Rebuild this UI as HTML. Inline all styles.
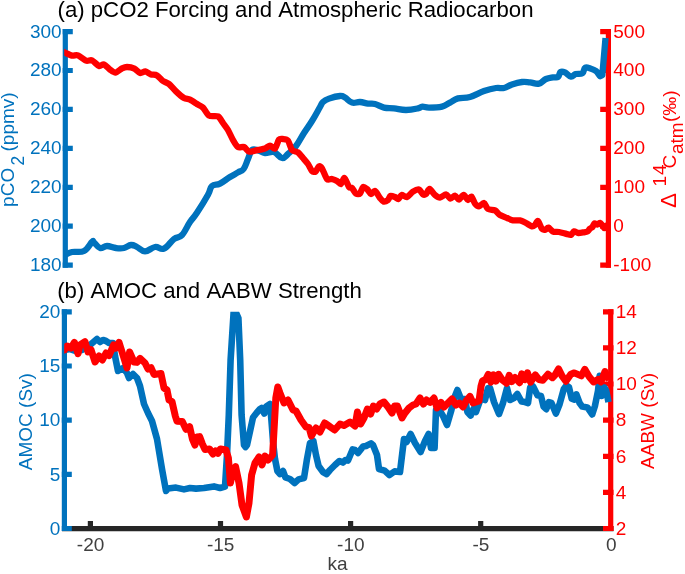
<!DOCTYPE html>
<html><head><meta charset="utf-8"><title>Figure</title>
<style>
html,body{margin:0;padding:0;background:#fff}
svg{display:block}
text{font-family:"Liberation Sans",sans-serif;font-kerning:none}
.b{fill:#0072bd}.r{fill:#ff0000}.k{fill:#404040}
.t{font-size:22.2px;fill:#000}
.n{font-size:19px}
</style></head><body>
<svg width="685" height="574" viewBox="0 0 685 574">
<rect width="685" height="574" fill="#fff"/>
<!-- titles -->
<text class="t" x="57.5" y="17">(a) pCO2 Forcing and Atmospheric Radiocarbon</text>
<text class="t" x="57.2" y="298">(b) AMOC and AABW Strength</text>


<!-- top-left axis -->
<g stroke="#0072bd" stroke-width="5.2" fill="none">
<path d="M65.3 29V267.7"/>
<path d="M62.7 31.6H72.8M62.7 70.5H72.8M62.7 109.4H72.8M62.7 148.4H72.8M62.7 187.3H72.8M62.7 226.2H72.8M62.7 265.1H72.8"/>
</g>
<g class="b n" text-anchor="end">
<text x="61.6" y="37.5">300</text><text x="61.6" y="76.4">280</text><text x="61.6" y="115.3">260</text><text x="61.6" y="154.3">240</text><text x="61.6" y="193.2">220</text><text x="61.6" y="232.1">200</text><text x="61.6" y="271.0">180</text>
</g>
<g class="b n">
<text transform="translate(14.4,206.9) rotate(-90)">pCO</text>
<text transform="translate(23.8,165.6) rotate(-90)" font-size="17.5" style="font-size:17.5px">2</text>
<text transform="translate(14.4,151.5) rotate(-90)">(ppmv)</text>
</g>

<!-- top-right axis -->
<g stroke="#ff0000" stroke-width="5.2" fill="none">
<path d="M608.4 29V267.7"/>
<path d="M611 31.6H600.2M611 70.5H600.2M611 109.4H600.2M611 148.4H600.2M611 187.3H600.2M611 226.2H600.2M611 265.1H600.2"/>
</g>
<g class="r n">
<text x="613.3" y="37.5">500</text><text x="613.3" y="76.4">400</text><text x="613.3" y="115.3">300</text><text x="613.3" y="154.3">200</text><text x="613.3" y="193.2">100</text><text x="613.3" y="232.1">0</text><text x="613.3" y="271.0">-100</text>
</g>
<g class="r n">
<text transform="translate(675.8,207.9) rotate(-90)" style="font-size:22.5px">Δ</text>
<text transform="translate(665.6,186.4) rotate(-90)" style="font-size:19px;letter-spacing:0.8px">14</text>
<text transform="translate(675.8,168.6) rotate(-90)">C</text>
<text transform="translate(683.2,154) rotate(-90)">atm</text>
<text transform="translate(675.5,122) rotate(-90)">(‰)</text>
</g>

<!-- bottom x axis -->
<g stroke="#262626" stroke-width="5.2" fill="none">
<path d="M62 528.7H613.5"/>
<path d="M90.4 531V521M220.5 531V521M350.6 531V521M480.7 531V521"/>
</g>
<g class="k n" text-anchor="middle">
<text x="90.6" y="551">-20</text><text x="220.7" y="551">-15</text><text x="350.8" y="551">-10</text><text x="480.9" y="551">-5</text><text x="611.2" y="551">0</text>
<text x="337.5" y="570">ka</text>
</g>

<!-- bottom-left axis -->
<g stroke="#0072bd" stroke-width="5.2" fill="none">
<path d="M64.4 309.2V531.1"/>
<path d="M61.8 311.8H71.8M61.8 366.0H71.8M61.8 420.2H71.8M61.8 474.3H71.8M61.8 528.5H71.8"/>
</g>
<g class="b n" text-anchor="end">
<text x="60.4" y="318.0">20</text><text x="60.4" y="372.2">15</text><text x="60.4" y="426.4">10</text><text x="60.4" y="480.5">5</text><text x="60.4" y="534.7">0</text>
</g>
<text class="b n" transform="translate(32.3,470.2) rotate(-90)">AMOC (Sv)</text>

<!-- bottom-right axis -->
<g stroke="#ff0000" stroke-width="5.2" fill="none">
<path d="M610.7 309.2V531.1"/>
<path d="M613.5 311.8H603M613.5 347.9H603M613.5 384.0H603M613.5 420.2H603M613.5 456.3H603M613.5 492.4H603M613.5 528.5H603"/>
</g>
<g class="r n">
<text x="615.8" y="318.0">14</text><text x="615.8" y="354.1">12</text><text x="615.8" y="390.2">10</text><text x="615.8" y="426.4">8</text><text x="615.8" y="462.5">6</text><text x="615.8" y="498.6">4</text><text x="615.8" y="534.7">2</text>
</g>
<text class="r n" transform="translate(654.3,468.9) rotate(-90)">AABW (Sv)</text>
<!-- CURVES-A -->
<g fill="none" stroke-width="6.3" stroke-linejoin="round" stroke-linecap="butt" clip-path="url(#ca)">
<path id="blueA" stroke="#0072bd" d="M65 255 C66.4 254.4 68.2 252.8 72 252 C75.8 251.2 80.0 253.0 84 251 C88.0 249.0 90.0 243.7 92 242 C94.0 240.3 92.4 241.2 94 242.4 C95.6 243.6 97.4 247.3 100 248 C102.6 248.7 103.8 246.0 107 246 C110.2 246.0 112.6 247.6 116 248 C119.4 248.4 121.0 248.6 124 248 C127.0 247.4 128.4 245.2 131 245 C133.6 244.8 134.2 245.7 137 247 C139.8 248.3 141.4 251.4 145 251.4 C148.6 251.4 151.2 247.6 155 247 C158.8 246.4 160.2 250.2 164 248.6 C167.8 247.0 170.4 241.7 174 239 C177.6 236.3 178.8 238.4 182 235 C185.2 231.6 187.0 226.4 190 222 C193.0 217.6 193.2 218.4 196.8 213 C200.4 207.6 205.0 200.2 208 194.8 C211.0 189.4 209.6 188.2 212 186 C214.4 183.8 216.4 185.4 220 183.6 C223.6 181.8 226.4 179.2 230 177 C233.6 174.8 235.3 174.0 238 172.4 C240.7 170.8 241.6 171.7 243.6 169 C245.6 166.3 246.3 162.8 248 159 C249.7 155.2 250.0 151.7 252 150 C254.0 148.3 255.4 149.8 258 150.4 C260.6 151.0 261.8 152.7 265 153 C268.2 153.3 270.6 151.0 274 152 C277.4 153.0 279.2 157.6 282 158 C284.8 158.4 285.2 156.4 288 154 C290.8 151.6 292.8 150.2 296 146 C299.2 141.8 300.8 138.0 304 133 C307.2 128.0 308.8 126.2 312 121 C315.2 115.8 317.8 110.8 320 107 C322.2 103.2 321.2 103.7 323 102 C324.8 100.3 325.6 99.8 329 98.6 C332.4 97.4 336.8 96.2 340 96 C343.2 95.8 342.6 96.3 345 97.6 C347.4 98.9 349.0 101.7 352 102.6 C355.0 103.5 356.8 101.8 360 102 C363.2 102.2 365.0 103.2 368 103.6 C371.0 104.0 371.8 103.2 375 104 C378.2 104.8 380.2 106.7 384 107.6 C387.8 108.5 389.6 107.9 394 108.4 C398.4 108.9 401.2 110.0 406 110 C410.8 110.0 414.7 109.1 418 108.4 C421.3 107.7 420.2 106.8 422.4 106.6 C424.6 106.4 425.1 107.6 429 107.6 C432.9 107.6 437.8 107.6 442 106.6 C446.2 105.6 446.8 104.2 450 102.6 C453.2 101.0 454.0 99.5 458 98.4 C462.0 97.3 464.8 98.5 470 97 C475.2 95.5 478.8 92.8 484 91 C489.2 89.2 492.0 88.6 496 88 C500.0 87.4 500.8 88.7 504 88 C507.2 87.3 508.4 85.6 512 84.4 C515.6 83.2 518.4 82.4 522 82 C525.6 81.6 526.6 82.1 530 82.4 C533.4 82.7 535.8 84.3 539 83.6 C542.2 82.9 543.2 80.2 546 79 C548.8 77.8 550.6 77.8 553 77.4 C555.4 77.0 556.5 78.1 558 77 C559.5 75.9 559.2 72.9 560.6 72 C562.0 71.1 562.9 71.5 565 72.4 C567.1 73.3 568.9 76.4 571 76.7 C573.1 77.0 573.4 74.8 575.7 74.1 C578.0 73.4 580.6 74.4 582.5 73.1 C584.4 71.8 583.5 68.7 585.1 67.8 C586.7 66.9 588.1 67.8 590.3 68.4 C592.5 69.0 594.0 69.4 596 71 C598.0 72.6 598.9 75.4 600.2 76.2 L602.3 75.2 L605.5 38.1"/>
<path id="redA" stroke="#ff0000" d="M61 51 C61.5 51.2 62.9 51.7 64.4 52.3 C65.9 52.9 70.2 55.2 72 55.6 C73.8 56.0 76.1 54.7 78 55.4 C79.9 56.1 84.1 59.9 86 60.6 C87.9 61.3 90.3 59.7 92 60.4 C93.7 61.1 97.4 65.5 99 66 C100.6 66.5 102.5 63.9 104 64.4 C105.5 64.9 108.5 68.5 110 69.6 C111.5 70.7 114.0 72.8 115.6 72.6 C117.2 72.4 120.5 69.1 122 68.4 C123.5 67.7 125.3 67.0 127 67 C128.7 67.0 132.7 67.8 134.4 68.6 C136.1 69.4 138.5 72.6 140 73 C141.5 73.4 143.9 71.2 145.4 71.4 C146.9 71.6 149.5 73.9 151 74.4 C152.5 74.9 155.4 74.5 157 75.4 C158.6 76.3 161.4 79.9 163 81 C164.6 82.1 167.3 82.6 169 84 C170.7 85.4 174.0 89.5 176 91.4 C178.0 93.3 182.1 96.9 184 98 C185.9 99.1 188.3 98.8 190 99.6 C191.7 100.4 195.3 102.9 197 104 C198.7 105.1 201.4 106.1 203 107.6 C204.6 109.1 207.0 114.4 209 115.6 C211.0 116.8 216.1 115.4 218 116.4 C219.9 117.4 221.7 121.2 223 123 C224.3 124.8 226.7 127.7 228 130 C229.3 132.3 231.7 137.7 233 140 C234.3 142.3 236.5 146.1 238 147 C239.5 147.9 242.5 146.4 244 147 C245.5 147.6 247.4 151.1 249 151.6 C250.6 152.1 253.9 150.8 256 150.4 C258.1 150.0 263.1 149.0 265 148.4 C266.9 147.8 268.7 145.6 270 145.6 C271.3 145.6 273.8 149.4 275 148.6 C276.2 147.8 277.9 140.9 279 139.6 C280.1 138.3 281.8 138.9 283 139 C284.2 139.1 286.8 139.1 288 140.6 C289.2 142.1 290.7 148.4 292 150 C293.3 151.6 296.5 151.3 298 152.4 C299.5 153.5 301.7 156.5 303 158 C304.3 159.5 306.8 162.3 308 164 C309.2 165.7 311.0 170.0 312 171 C313.0 172.0 314.7 172.2 315.6 171.6 C316.5 171.0 318.1 166.8 319 166.4 C319.9 166.0 320.9 166.8 322 168.5 C323.1 170.2 325.7 177.6 327 179 C328.3 180.4 330.7 178.7 332 179 C333.3 179.3 335.8 180.3 337 181 C338.2 181.7 340.0 184.4 341 184 C342.0 183.6 343.3 177.6 344.4 178 C345.5 178.4 348.0 185.7 349 187 C350.0 188.3 351.1 187.1 352 188 C352.9 188.9 354.9 192.9 356 193.6 C357.1 194.3 359.1 194.5 360 193.6 C360.9 192.7 362.1 187.6 363 187 C363.9 186.4 365.9 188.1 367 189 C368.1 189.9 369.9 193.7 371 194 C372.1 194.3 373.8 190.5 375 191 C376.2 191.5 378.9 196.6 380 198 C381.1 199.4 382.5 201.3 383.6 201.6 C384.7 201.9 387.1 200.7 388 200 C388.9 199.3 389.5 196.4 390.4 196 C391.3 195.6 393.9 196.6 395 197 C396.1 197.4 397.5 199.3 398.4 199 C399.3 198.7 400.5 195.3 401.6 195 C402.7 194.7 405.5 197.5 407 197 C408.5 196.5 411.4 192.6 413 191.6 C414.6 190.6 417.7 189.2 419 189.6 C420.3 190.0 422.1 193.8 423 194.4 C423.9 195.0 425.1 194.7 426 194 C426.9 193.3 428.4 188.9 429.6 189 C430.8 189.1 433.6 193.9 435 195 C436.4 196.1 438.5 197.7 440 197.6 C441.5 197.5 444.6 194.3 446 194.4 C447.4 194.5 449.2 198.4 450.4 198.6 C451.6 198.8 453.9 195.5 455 195.6 C456.1 195.7 457.9 199.7 459 199.6 C460.1 199.5 462.4 194.9 463.6 195 C464.8 195.1 467.0 199.8 468 200 C469.0 200.2 470.5 196.1 471.4 196.6 C472.3 197.1 474.0 202.3 475 203.6 C476.0 204.9 477.8 206.5 479 206.4 C480.2 206.3 482.8 202.7 484 203 C485.2 203.3 486.5 208.0 488 209 C489.5 210.0 493.4 209.6 495 210.4 C496.6 211.2 498.4 214.0 500 215 C501.6 216.0 505.3 217.3 507 218 C508.7 218.7 511.3 220.1 513 220.4 C514.7 220.7 518.3 220.1 520 220.4 C521.7 220.7 524.4 222.2 526 223 C527.6 223.8 530.8 226.1 532 226.4 C533.2 226.7 534.2 225.7 535 225 C535.8 224.3 537.1 220.5 538 221 C538.9 221.5 541.0 227.9 542 229 C543.0 230.1 544.7 229.8 545.6 229.6 C546.5 229.4 547.4 227.3 548.4 227.6 C549.4 227.9 551.6 231.0 553 231.6 C554.4 232.2 557.2 231.7 559 232 C560.8 232.3 564.7 233.5 566.3 233.9 C567.9 234.3 570.0 235.2 571 234.9 C572.0 234.6 573.1 231.6 574.1 231.3 C575.1 231.0 577.0 232.9 578.3 233 C579.6 233.1 582.7 232.5 584 232.3 C585.3 232.1 586.9 231.8 587.7 231.3 C588.5 230.8 589.2 229.3 589.8 228.7 C590.4 228.1 591.8 227.8 592.4 227.1 C593.0 226.4 593.9 223.7 594.5 223.4 C595.1 223.1 596.3 224.6 597.1 224.5 C597.9 224.4 599.5 222.8 600.2 222.9 C600.9 223.0 601.7 224.8 602.3 225.5 C602.9 226.2 603.8 228.1 604.4 228.1 C605.0 228.1 606.0 225.9 606.5 225.5 C607.0 225.1 608.1 225.1 608.4 225"/>
</g>
<!-- /CURVES-A -->
<!-- CURVES-B -->
<defs><clipPath id="ca"><rect x="64.2" y="20" width="560" height="260"/></clipPath><clipPath id="cb"><rect x="64.2" y="311.8" width="560" height="230"/></clipPath></defs>
<g fill="none" stroke-width="6.3" stroke-linejoin="round" stroke-linecap="butt" clip-path="url(#cb)">
<path id="blueB" stroke="#0072bd" stroke-width="6.6" d="M64.4 350 L70 349 L76 351 L82 350 L90 345 L97 339 L100 342 L103 340 L106 341 L109 343 L113 343 L115 356 L118 371 L123 368 L127 373 L129 378 L133 374 L137 378 L140 386 L144 404 L148 413 L152 421 L157 439 L162 469 L166 491 L168 488.6 L176 487.6 L184 489.4 L190 488 L196 488.6 L204 488 L214 486.4 L220 488 L225 486.6 L227 455 L228.8 415 L230.6 360 L233.9 308 L238.4 318 L240.2 360 L241.6 415 L244 445 L245.5 447 L247 445 L250.3 430 L253 417.5 L256.5 413 L260 409 L261.6 408 L264.3 413.5 L266.3 406.5 L270 404 L271.4 420 L273 441 L275 459 L277.4 471 L280 474 L283 471 L285.4 477.4 L290 479 L294.6 483 L298.6 479.4 L304 478 L307 459 L310 443 L313.4 441 L316 455 L318.6 466 L323 472 L326.6 474 L330 470 L335 465 L339.4 461 L343 462.6 L345.4 460 L348 460.6 L352.6 449.4 L355 450 L358 453 L363 446.6 L366 446 L371 443.4 L373 445 L377 455 L379 469 L384.6 470.6 L389.4 475 L394.6 471.4 L400 472 L404 439 L406.6 442 L410.6 434 L415 443 L420.6 452 L425 441 L428.6 434 L431 448 L434.6 448 L436 410 L440 411 L443 416 L447 425 L451.4 410 L455 396 L457.4 390 L461 399 L465 399 L467.4 412 L470.6 415.6 L473.4 409 L476 412 L481 398 L485 400 L488 388 L490 388 L494 402 L499 414 L503 403 L507 388 L510 400 L514 398 L517.4 394 L521.5 401.5 L525 402 L528 403 L530.2 387.3 L533.1 386.4 L537.5 395.2 L541 396 L543.6 406.6 L546.3 409.2 L548.9 402.2 L551.5 403 L555.9 413.6 L559.4 404.8 L563.8 389 L566.4 385.5 L569 387.3 L571.7 398.7 L574.3 399.6 L576.4 394.3 L579.6 403 L582.2 406.6 L587.4 407.4 L592.2 414.4 L595 405.7 L598 390.8 L599.7 375.9 L601.5 396 L604.1 387.3 L606.2 390.8 L608.5 402.2"/>
<path id="redB" stroke="#ff0000" stroke-width="7" d="M61 351 L64.4 350 L67 346 L71 348 L74.4 342.4 L78 353.6 L80 345 L85 341.6 L88 352 L91 349.6 L95 362 L99 356 L102.4 360 L106 353 L109 355.6 L113.6 345 L116 348 L119 342.4 L123 355 L127 368 L129.6 352 L134 362 L137 362.4 L140 358.4 L145 363 L148 369 L151 367.6 L154 374.4 L161 373.6 L164 388 L167 390 L169 400 L172 401.6 L175.3 416 L177 421.3 L182.3 421.5 L186 429.3 L189.6 426.6 L192.4 439 L195 445 L197 437 L199.6 436.6 L202.4 444 L205 449.4 L209.6 449 L213 454 L215.6 451 L218 453.4 L220.4 449 L226 450 L228.4 458 L230.4 483 L233 471 L235.6 466.6 L239 483 L242 505 L246.4 517 L249 503 L251.6 475 L255 463 L259 457 L262 465 L265 456 L268 460 L270 458 L272.6 455 L274.6 420 L275.8 398 L277.8 387 L280 393 L284 403 L288 400 L293 410 L296 411 L301 420 L306 427 L309 427.4 L311.4 436 L316 428 L320 432 L324.6 423 L329 426 L334.6 430 L340 424 L344 425.6 L350 422 L355 426 L357.4 412 L360.6 424 L364 418 L367.4 409 L370.6 414 L373.4 406 L376.6 409 L380 404 L384 402 L388 407 L392 413 L394.6 406 L397.4 406 L402 418 L405 413 L409 408 L413 405 L416 404 L420 398 L423.4 404 L426.6 400 L430 402.4 L434 398 L437 408 L441 402.4 L444 407 L452 399 L456 405 L459.4 403 L463 407 L466 401 L470 396.4 L473 403 L479 401 L481 386.3 L482.5 381 L485.7 379.5 L488.3 374.3 L490.9 382.2 L493.5 374.9 L496.1 381.1 L498.7 374.3 L502.4 380 L506.6 383.2 L509.2 375.4 L511.8 381.6 L515 377.5 L519.6 382.7 L521.7 373.8 L524.9 379.6 L527.5 372.8 L530.6 382.2 L535.3 374.9 L539 379.6 L542.8 380.3 L548 374.2 L552.4 377.7 L555 375 L558.5 368.9 L562 375.9 L565.9 381.2 L570.8 374.2 L574.3 372.9 L581.3 375.9 L584.8 369.4 L589.2 376.8 L593.6 382 L598 379.4 L600.9 382 L605 371.5 L607.6 377.7 L609.3 379.4"/>
</g>
<!-- /CURVES-B -->
</svg>
</body></html>
